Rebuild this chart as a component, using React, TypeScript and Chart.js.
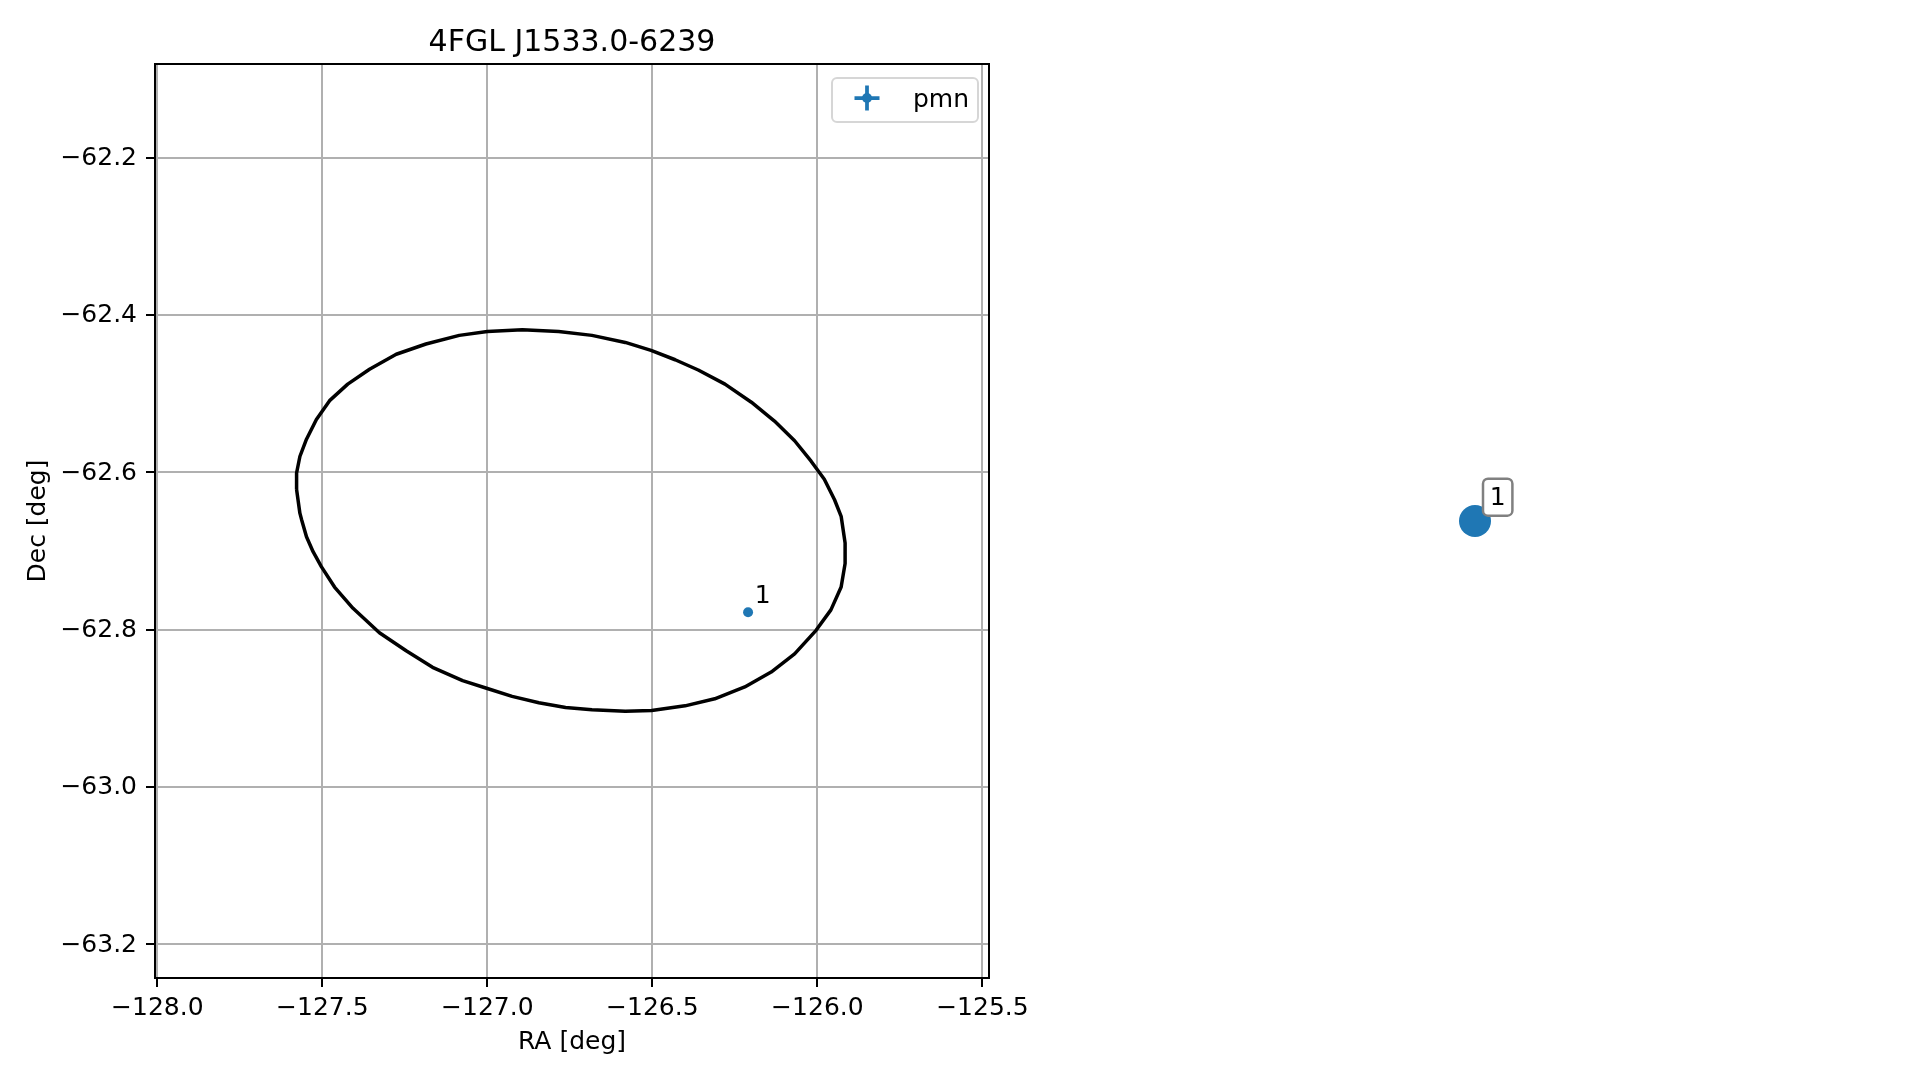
import React, { useEffect, useRef } from 'react';
import { Chart, registerables } from 'chart.js';

Chart.register(...registerables);

// ---------- data ----------
const chartTitle = '4FGL J1533.0-6239';
const xAxisLabel = 'RA [deg]';
const yAxisLabel = 'Dec [deg]';
const xTicks = [-128.0, -127.5, -127.0, -126.5, -126.0, -125.5];
const yTicks = [-63.2, -63.0, -62.8, -62.6, -62.4, -62.2];
const xRange = [-128.007, -125.48];
const yRange = [-63.243, -62.081];

const ellipseRA = [
  -127.578, -127.578, -127.568, -127.548, -127.518, -127.478, -127.423, -127.357, -127.276, -127.186,
  -127.085, -127.0, -126.894, -126.784, -126.683, -126.582, -126.504, -126.431, -126.361, -126.28,
  -126.2, -126.13, -126.069, -126.019, -125.979, -125.948, -125.928, -125.916, -125.916, -125.928,
  -125.959, -126.004, -126.069, -126.14, -126.22, -126.311, -126.401, -126.502, -126.582, -126.683,
  -126.763, -126.844, -126.925, -127.0, -127.075, -127.166, -127.246, -127.327, -127.407, -127.463,
  -127.503, -127.528, -127.548, -127.563, -127.568, -127.578,
];
const ellipseDec = [
  -62.622, -62.601, -62.58, -62.558, -62.533, -62.509, -62.488, -62.469, -62.45, -62.437,
  -62.426, -62.421, -62.419, -62.421, -62.426, -62.435, -62.445, -62.457, -62.47, -62.488,
  -62.511, -62.535, -62.56, -62.586, -62.609, -62.635, -62.656, -62.69, -62.716, -62.746,
  -62.775, -62.801, -62.831, -62.854, -62.873, -62.888, -62.897, -62.903, -62.904, -62.902,
  -62.899, -62.893, -62.885, -62.875, -62.865, -62.848, -62.827, -62.804, -62.773, -62.746,
  -62.72, -62.701, -62.682, -62.66, -62.652, -62.622,
];

const legendLabel = 'pmn';
const sourceLabels = ['1'];
const sourceRA = [-126.21];
const sourceDec = [-62.778];

// ---------- styling ----------
const FONT = '"DejaVu Sans", "Liberation Sans", sans-serif';
const BLUE = '#1f77b4';

const fmt = (v: number) => (v < 0 ? '\u2212' : '') + Math.abs(v).toFixed(1);

const mainPlugin = {
  id: 'mainDecor',
  afterDatasetsDraw(chart: any) {
    const { ctx, chartArea: ca, scales } = chart;
    ctx.save();
    // point labels
    ctx.fillStyle = '#000';
    ctx.font = `25px ${FONT}`;
    ctx.textAlign = 'left';
    ctx.textBaseline = 'alphabetic';
    sourceLabels.forEach((lab, i) => {
      const px = scales.x.getPixelForValue(sourceRA[i]);
      const py = scales.y.getPixelForValue(sourceDec[i]);
      ctx.fillText(lab, px + 6.7, py - 9.6);
    });
    // frame
    ctx.strokeStyle = '#000';
    ctx.lineWidth = 2;
    ctx.strokeRect(ca.left, ca.top, ca.right - ca.left, ca.bottom - ca.top);
    // title
    ctx.font = `30px ${FONT}`;
    ctx.textAlign = 'center';
    ctx.textBaseline = 'alphabetic';
    ctx.fillText(chartTitle, (ca.left + ca.right) / 2, ca.top - 13);
    // legend
    const bw = 146, bh = 44;
    const bx = ca.right - 11 - bw;
    const by = ca.top + 14;
    ctx.beginPath();
    ctx.roundRect(bx, by, bw, bh, 5);
    ctx.fillStyle = 'rgba(255,255,255,0.8)';
    ctx.fill();
    ctx.strokeStyle = '#d6d6d6';
    ctx.lineWidth = 2;
    ctx.stroke();
    const cx = bx + 35, cy = by + 20;
    ctx.strokeStyle = BLUE;
    ctx.lineWidth = 3.75;
    ctx.beginPath();
    ctx.moveTo(cx - 12.5, cy);
    ctx.lineTo(cx + 12.5, cy);
    ctx.moveTo(cx, cy - 12.5);
    ctx.lineTo(cx, cy + 12.5);
    ctx.stroke();
    ctx.fillStyle = BLUE;
    ctx.beginPath();
    ctx.arc(cx, cy, 5, 0, Math.PI * 2);
    ctx.fill();
    ctx.fillStyle = '#000';
    ctx.font = `25px ${FONT}`;
    ctx.textAlign = 'left';
    ctx.fillText(chart.data.datasets[1].label, bx + 81, by + 29);
    ctx.restore();
  },
};

const sidePlugin = {
  id: 'sideDecor',
  afterDatasetsDraw(chart: any) {
    const { ctx, scales } = chart;
    ctx.save();
    sourceLabels.forEach((lab, i) => {
      const px = scales.x.getPixelForValue(sourceRA[i]);
      const py = scales.y.getPixelForValue(sourceDec[i]);
      const bcx = px + 22.7, bcy = py - 23.8;
      const w = 29.4, h = 37;
      ctx.beginPath();
      ctx.roundRect(bcx - w / 2, bcy - h / 2, w, h, 5);
      ctx.fillStyle = '#fff';
      ctx.fill();
      ctx.strokeStyle = '#808080';
      ctx.lineWidth = 2.5;
      ctx.stroke();
      ctx.fillStyle = '#000';
      ctx.font = `25px ${FONT}`;
      ctx.textAlign = 'center';
      ctx.textBaseline = 'middle';
      ctx.fillText(lab, bcx, bcy + 1);
    });
    ctx.restore();
  },
};

function MainChart() {
  const ref = useRef<HTMLCanvasElement | null>(null);
  useEffect(() => {
    if (!ref.current) return;
    const tickFont = { family: FONT, size: 25, lineHeight: 1.2 };
    const chart = new Chart(ref.current, {
      type: 'scatter',
      data: {
        datasets: [
          {
            label: 'ellipse',
            data: ellipseRA.map((x, i) => ({ x, y: ellipseDec[i] })),
            showLine: true,
            borderColor: '#000',
            borderWidth: 3.5,
            borderJoinStyle: 'round',
            pointRadius: 0,
            fill: false,
            tension: 0,
          } as any,
          {
            label: legendLabel,
            data: sourceRA.map((x, i) => ({ x, y: sourceDec[i] })),
            pointRadius: 5,
            backgroundColor: BLUE,
            borderWidth: 0,
          },
        ],
      },
      options: {
        animation: false,
        responsive: false,
        devicePixelRatio: 1,
        layout: { padding: { left: 0, right: 930, top: 64, bottom: 0 } },
        plugins: { legend: { display: false }, tooltip: { enabled: false }, title: { display: false } },
        scales: {
          x: {
            type: 'linear',
            position: 'bottom',
            min: xRange[0],
            max: xRange[1],
            afterBuildTicks: (s: any) => {
              s.ticks = xTicks.map((v) => ({ value: v }));
            },
            afterFit: (s: any) => {
              s.height = 102;
            },
            ticks: { font: tickFont, color: '#000', padding: 6.5, maxRotation: 0, autoSkip: false, callback: (v: any) => fmt(Number(v)) },
            grid: { color: '#b0b0b0', lineWidth: 2, tickLength: 9, tickColor: '#000', tickWidth: 2 },
            border: { display: true, color: '#000', width: 2 },
            title: { display: true, text: xAxisLabel, color: '#000', font: tickFont, padding: { top: 0, bottom: 23 } },
          },
          y: {
            type: 'linear',
            position: 'left',
            min: yRange[0],
            max: yRange[1],
            afterBuildTicks: (s: any) => {
              s.ticks = yTicks.map((v) => ({ value: v }));
            },
            afterFit: (s: any) => {
              s.width = 155;
            },
            ticks: { font: tickFont, color: '#000', padding: 9, labelOffset: 1, autoSkip: false, callback: (v: any) => fmt(Number(v)) },
            grid: { color: '#b0b0b0', lineWidth: 2, tickLength: 9, tickColor: '#000', tickWidth: 2 },
            border: { display: true, color: '#000', width: 2 },
            title: { display: true, text: yAxisLabel, color: '#000', font: tickFont, padding: { top: 23.5, bottom: 0 } },
          },
        },
      },
      plugins: [mainPlugin],
    } as any);
    return () => chart.destroy();
  }, []);
  return <canvas ref={ref} width={1919} height={1080} style={{ position: 'absolute', left: 0, top: 0, width: 1919, height: 1080 }} />;
}

function SideChart() {
  const ref = useRef<HTMLCanvasElement | null>(null);
  useEffect(() => {
    if (!ref.current) return;
    const chart = new Chart(ref.current, {
      type: 'scatter',
      data: {
        datasets: [
          {
            label: legendLabel,
            data: sourceRA.map((x, i) => ({ x, y: sourceDec[i] })),
            pointRadius: 16,
            backgroundColor: BLUE,
            borderWidth: 0,
          },
        ],
      },
      options: {
        animation: false,
        responsive: false,
        devicePixelRatio: 1,
        layout: { padding: 0 },
        plugins: { legend: { display: false }, tooltip: { enabled: false } },
        scales: {
          x: { display: false, min: sourceRA[0] - 0.05, max: sourceRA[0] + 0.05 },
          y: { display: false, min: sourceDec[0] - 0.05, max: sourceDec[0] + 0.05 },
        },
      },
      plugins: [sidePlugin],
    } as any);
    return () => chart.destroy();
  }, []);
  return <canvas ref={ref} width={830} height={914} style={{ position: 'absolute', left: 1060, top: 64, width: 830, height: 914 }} />;
}

export default function App() {
  return (
    <div style={{ position: 'absolute', left: 0, top: 0, width: 1919, height: 1080, background: '#fff' }}>
      <MainChart />
      <SideChart />
    </div>
  );
}
